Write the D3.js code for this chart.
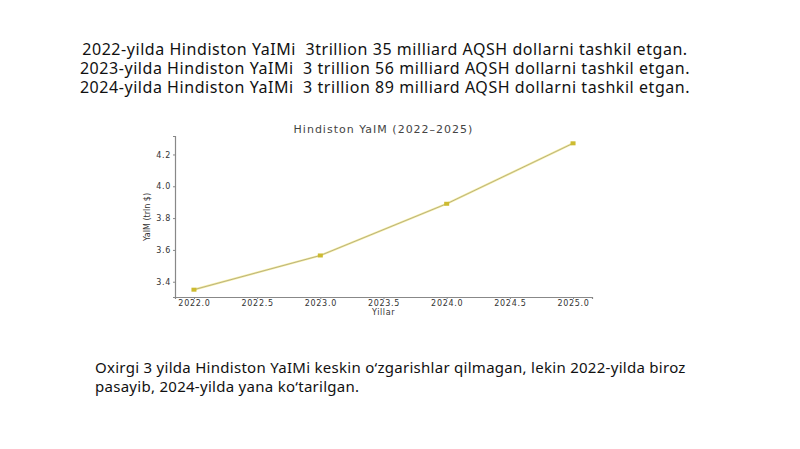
<!DOCTYPE html>
<html>
<head>
<meta charset="utf-8">
<script src="https://cdn.jsdelivr.net/npm/d3@7"></script>
<style>
  body { margin: 0; background: #fff; }
  svg { display: block; }
</style>
</head>
<body>
<script>
// Page size
var W = 800, H = 449

// Data
var years = [2022, 2023, 2024, 2025]
var gdp = [3.35, 3.565, 3.89, 4.27]
var xTicks = [2022.0, 2022.5, 2023.0, 2023.5, 2024.0, 2024.5, 2025.0]
var yTicks = [3.4, 3.6, 3.8, 4.0, 4.2]
var headerLines = [
  "2022-yilda Hindiston YaIMi  3trillion 35 milliard AQSH dollarni tashkil etgan.",
  "2023-yilda Hindiston YaIMi  3 trillion 56 milliard AQSH dollarni tashkil etgan.",
  "2024-yilda Hindiston YaIMi  3 trillion 89 milliard AQSH dollarni tashkil etgan."
]
var footerLines = [
  "Oxirgi 3 yilda Hindiston YaIMi keskin o‘zgarishlar qilmagan, lekin 2022-yilda biroz",
  "pasayib, 2024-yilda yana ko‘tarilgan."
]

var svg = d3.select("body")
  .append("svg")
    .attr("width", W)
    .attr("height", H)

// Header text
svg.append("g")
  .selectAll("text")
  .data(headerLines)
  .join("text")
    .attr("x", 385)
    .attr("y", (d, i) => 55 + i * 19)
    .attr("text-anchor", "middle")
    .attr("font-family", "Noto Sans")
    .attr("font-size", 16)
    .attr("letter-spacing", 0.55)
    .attr("fill", "#111")
    .style("white-space", "pre")
    .text(d => d)

// Chart area
var margin = {top: 136, left: 175},
    width = 592 - 175,
    height = 297 - 136

// Set the ranges (matplotlib-style 5% padding)
var x = d3.scaleLinear().domain([2021.85, 2025.15]).range([0, width])
var y = d3.scaleLinear().domain([3.304, 4.316]).range([height, 0])

var g = svg.append("g")
    .attr("transform", "translate(" + margin.left + "," + margin.top + ")")

// Axes
var xAxis = d3.axisBottom(x).tickValues(xTicks).tickFormat(d3.format(".1f")).tickSize(2).tickPadding(1)
var yAxis = d3.axisLeft(y).tickValues(yTicks).tickFormat(d3.format(".1f")).tickSize(2).tickPadding(2)

var gx = g.append("g")
    .attr("transform", "translate(0," + height + ")")
    .call(xAxis)
var gy = g.append("g").call(yAxis)

;[gx, gy].forEach(a => {
  a.select(".domain").attr("stroke", "#888").attr("stroke-width", 1.2)
  a.selectAll(".tick line").attr("stroke", "#888")
  a.selectAll(".tick text")
    .attr("font-family", "DejaVu Sans")
    .attr("font-size", 8)
    .attr("letter-spacing", 0.7)
    .attr("fill", "#333")
})

// Line
var line = d3.line()
  .x((d, i) => x(years[i]))
  .y(d => y(d))

g.append("path")
  .datum(gdp)
  .attr("fill", "none")
  .attr("stroke", "#f6ee9e")
  .attr("stroke-width", 2.2)
  .attr("d", line)
g.append("path")
  .datum(gdp)
  .attr("fill", "none")
  .attr("stroke", "#aaa27a")
  .attr("stroke-width", 0.8)
  .attr("d", line)

g.selectAll("rect.pt")
  .data(gdp)
  .join("rect")
    .attr("class", "pt")
    .attr("x", (d, i) => x(years[i]) - 2.5)
    .attr("y", d => y(d) - 2)
    .attr("width", 5)
    .attr("height", 4)
    .attr("fill", "#cdbb30")

// Title and labels
svg.append("text")
  .attr("x", 383.5)
  .attr("y", 133)
  .attr("text-anchor", "middle")
  .attr("font-family", "DejaVu Sans")
  .attr("font-size", 11)
  .attr("letter-spacing", 1)
  .attr("fill", "#444")
  .text("Hindiston YaIM (2022–2025)")

svg.append("text")
  .attr("x", 383.5)
  .attr("y", 315)
  .attr("text-anchor", "middle")
  .attr("font-family", "DejaVu Sans")
  .attr("font-size", 8)
  .attr("letter-spacing", 0.6)
  .attr("fill", "#333")
  .text("Yillar")

svg.append("text")
  .attr("transform", "translate(150,217) rotate(-90)")
  .attr("text-anchor", "middle")
  .attr("font-family", "DejaVu Sans")
  .attr("font-size", 8)
  .attr("fill", "#333")
  .text("YaIM (trln $)")

// Footer text
svg.append("g")
  .selectAll("text")
  .data(footerLines)
  .join("text")
    .attr("x", 95)
    .attr("y", (d, i) => 373 + i * 19)
    .attr("font-family", "Noto Sans")
    .attr("font-size", 15)
    .attr("letter-spacing", 0.28)
    .attr("fill", "#111")
    .text(d => d)
</script>
</body>
</html>
